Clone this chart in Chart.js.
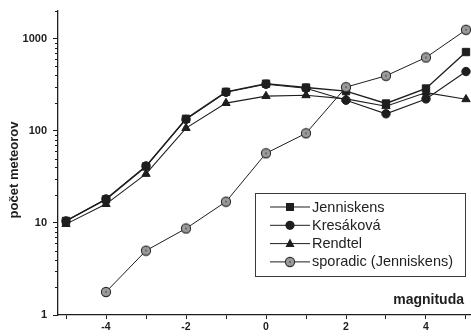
<!DOCTYPE html>
<html>
<head>
<meta charset="utf-8">
<script src="https://cdn.jsdelivr.net/npm/chart.js@4"></script>
<style>
  html, body { margin: 0; padding: 0; background: #fff; }
  canvas { display: block; }
</style>
</head>
<body>
<canvas id="c" width="471" height="336"></canvas>
<script>
// Meteor counts per magnitude class
const magnitudes   = [-5, -4, -3, -2, -1, 0, 1, 2, 3, 4, 5];
const jenniskens   = [10.5, 18, 41, 135, 265, 325, 295, 270, 198, 288, 717];
const kresakova    = [10.5, 18.2, 41.6, 133, 262, 320, 290, 215, 153, 222, 440];
const rendtel      = [9.7, 16, 34, 107, 200, 238, 243, 222, 185, 260, 220];
const sporadicMags = [-4, -3, -2, -1, 0, 1, 2, 3, 4, 5];
const sporadic     = [1.78, 5.0, 8.7, 17, 57, 94, 298, 396, 626, 1250];

const seriesLabels = ['Jenniskens', 'Kresáková', 'Rendtel', 'sporadic (Jenniskens)'];
const yTickValues  = [1, 10, 100, 1000];
const xTickValues  = [-5, -4, -3, -2, -1, 0, 1, 2, 3, 4, 5];
const xLabelled    = [-4, -2, 0, 2, 4];
const yAxisTitle   = 'počet meteorov';
const xAxisTitle   = 'magnituda';

const FONT = '"Liberation Sans", Arial, Helvetica, sans-serif';
const INK = '#1e1e1e';
const GREY = '#9a9a9a';

const pairs = (xs, ys) => xs.map((x, i) => ({ x: x, y: ys[i] }));

// grey disc with dark rim and a dot in the middle
function greyDisc() {
  const c = document.createElement('canvas');
  c.width = 12; c.height = 12;
  const g = c.getContext('2d');
  g.beginPath(); g.arc(6, 6, 4.6, 0, Math.PI * 2);
  g.fillStyle = GREY; g.fill();
  g.lineWidth = 1.1; g.strokeStyle = '#2a2a2a'; g.stroke();
  g.beginPath(); g.arc(6, 6, 0.8, 0, Math.PI * 2);
  g.fillStyle = '#333'; g.fill();
  return c;
}
const discImg = greyDisc();

function markerPath(ctx, style, x, y) {
  ctx.beginPath();
  if (style === 'rect') {
    ctx.rect(x - 4, y - 4, 8, 8);
  } else if (style === 'circle') {
    ctx.arc(x, y, 4.6, 0, Math.PI * 2);
  } else if (style === 'triangle') {
    ctx.moveTo(x, y - 5);
    ctx.lineTo(x + 4.5, y + 3.5);
    ctx.lineTo(x - 4.5, y + 3.5);
    ctx.closePath();
  }
}

// log-axis minor ticks, axis captions and the inner legend
const decorations = {
  id: 'decorations',
  afterDraw(chart) {
    const ctx = chart.ctx;
    const area = chart.chartArea;
    const ys = chart.scales.y;
    ctx.save();
    ctx.strokeStyle = INK;
    ctx.lineWidth = 1;
    for (const d of yTickValues) {
      for (let k = 2; k <= 9; k++) {
        const v = k * d;
        if (v > ys.max) break;
        const py = Math.round(ys.getPixelForValue(v)) + 0.5;
        ctx.beginPath();
        ctx.moveTo(area.left - 3, py);
        ctx.lineTo(area.left, py);
        ctx.stroke();
      }
    }

    // y axis caption, rotated
    ctx.save();
    ctx.translate(area.left - 44, (area.top + area.bottom) / 2 + 7);
    ctx.rotate(-Math.PI / 2);
    ctx.font = 'bold 13px ' + FONT;
    ctx.textAlign = 'center';
    ctx.textBaseline = 'middle';
    ctx.fillStyle = INK;
    ctx.fillText(yAxisTitle, 0, 0);
    ctx.restore();

    // legend box
    const bx = area.right - 215, by = area.bottom - 122;
    const bw = 210, bh = 83;
    ctx.lineWidth = 1;
    ctx.strokeStyle = '#3a3a3a';
    ctx.strokeRect(bx + 0.5, by + 0.5, bw, bh);
    ctx.font = '14.5px ' + FONT;
    ctx.textBaseline = 'middle';
    ctx.textAlign = 'left';
    chart.data.datasets.forEach((ds, row) => {
      const cy = by + 14 + row * 18.3;
      const x0 = bx + 15, x1 = bx + 55, mx = bx + 35;
      ctx.strokeStyle = INK;
      ctx.lineWidth = 1;
      ctx.beginPath();
      ctx.moveTo(x0, cy); ctx.lineTo(x1, cy);
      ctx.stroke();
      if (ds.pointStyle instanceof HTMLCanvasElement) {
        ctx.drawImage(ds.pointStyle, mx - 6, cy - 6);
      } else {
        markerPath(ctx, ds.pointStyle, mx, cy);
        ctx.fillStyle = INK;
        ctx.fill();
      }
      ctx.fillStyle = '#222';
      ctx.fillText(ds.label, bx + 57, cy + 0.5);
    });

    // x axis caption inside the plot
    ctx.font = 'bold 14px ' + FONT;
    ctx.textAlign = 'right';
    ctx.textBaseline = 'middle';
    ctx.fillStyle = INK;
    ctx.fillText(xAxisTitle, area.right - 6, area.bottom - 15);
    ctx.restore();
  }
};

const lineDefaults = {
  borderColor: INK,
  pointBorderColor: INK,
  pointBackgroundColor: INK,
  pointBorderWidth: 1,
  borderWidth: 1.1,
  tension: 0,
  fill: false,
  clip: false
};

new Chart(document.getElementById('c'), {
  type: 'line',
  data: {
    datasets: [
      Object.assign({}, lineDefaults, {
        label: seriesLabels[0], data: pairs(magnitudes, jenniskens),
        pointStyle: 'rect', pointRadius: 5.2, borderWidth: 1.4, order: 1
      }),
      Object.assign({}, lineDefaults, {
        label: seriesLabels[1], data: pairs(magnitudes, kresakova),
        pointStyle: 'circle', pointRadius: 4.2, order: 2
      }),
      Object.assign({}, lineDefaults, {
        label: seriesLabels[2], data: pairs(magnitudes, rendtel),
        pointStyle: 'triangle', pointRadius: 4.8, order: 3
      }),
      Object.assign({}, lineDefaults, {
        label: seriesLabels[3], data: pairs(sporadicMags, sporadic),
        pointStyle: discImg, pointRadius: 5, borderWidth: 1, order: 0
      })
    ]
  },
  options: {
    responsive: false,
    animation: false,
    devicePixelRatio: 1,
    layout: { autoPadding: false, padding: { top: 11, right: 1, left: 0, bottom: 0 } },
    plugins: { legend: { display: false }, tooltip: { enabled: false } },
    scales: {
      x: {
        type: 'linear',
        min: -5.2,
        max: 5.1,
        afterBuildTicks(scale) { scale.ticks = xTickValues.map(v => ({ value: v })); },
        afterFit(scale) { scale.height = 21; scale.paddingLeft = 0; scale.paddingRight = 0; },
        grid: { display: true, drawOnChartArea: false, drawTicks: true, tickLength: 4, tickColor: INK, tickWidth: 1 },
        border: { display: true, color: INK, width: 1.3 },
        ticks: {
          autoSkip: false,
          maxRotation: 0,
          padding: 2,
          color: INK,
          font: { family: FONT, size: 10.5, weight: 'bold' },
          callback: v => (xLabelled.includes(v) ? String(v) : '')
        }
      },
      y: {
        type: 'logarithmic',
        min: 1,
        max: 2000,
        afterBuildTicks(scale) { scale.ticks = yTickValues.map(v => ({ value: v })); },
        afterFit(scale) { scale.width = 58; scale.paddingTop = 0; scale.paddingBottom = 0; },
        grid: { display: true, drawOnChartArea: false, drawTicks: true, tickLength: 5, tickColor: INK, tickWidth: 1 },
        border: { display: true, color: INK, width: 1.3 },
        ticks: {
          autoSkip: false,
          padding: 6,
          color: INK,
          font: { family: FONT, size: 11, weight: 'bold' },
          callback: v => String(v)
        }
      }
    }
  },
  plugins: [decorations]
});
</script>
</body>
</html>
